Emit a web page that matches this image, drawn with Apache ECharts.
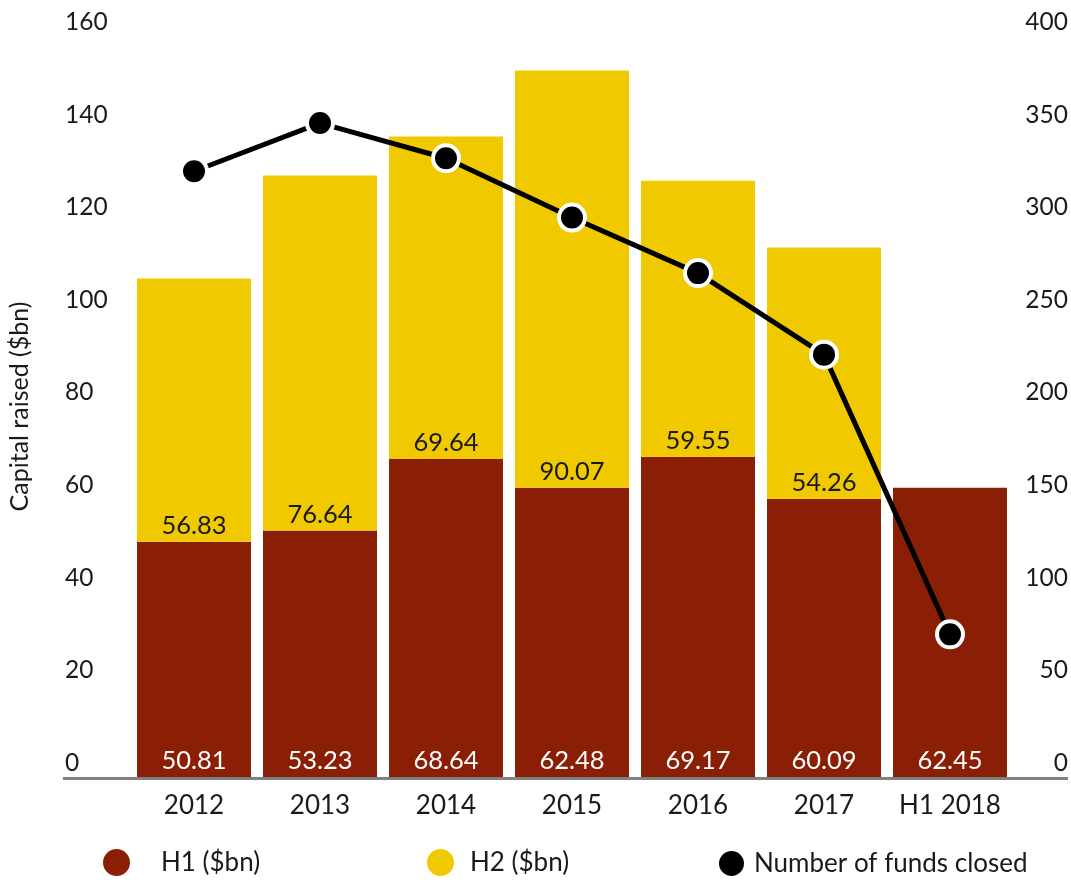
<!DOCTYPE html>
<html>
<head>
<meta charset="utf-8">
<title>Capital raised and number of funds closed</title>
<script src="https://cdn.jsdelivr.net/npm/echarts@6/dist/echarts.min.js"></script>
<style>
  html, body { margin: 0; padding: 0; background: #ffffff; }
  #chart { width: 1071px; height: 883px; }
</style>
</head>
<body>
<div id="chart"></div>
<script>
// Periods on the category axis
const categories = ['2012', '2013', '2014', '2015', '2016', '2017', 'H1 2018'];
// Capital raised in the first half of each year ($bn)
const h1Values = [50.81, 53.23, 68.64, 62.48, 69.17, 60.09, 62.45];
// Capital raised in the second half of each year ($bn)
const h2Values = [56.83, 76.64, 69.64, 90.07, 59.55, 54.26, null];
// Number of funds closed
const fundsClosed = [327, 353, 334, 302, 272, 228, 77];

const FONT = 'Lato, "Noto Sans", sans-serif';
const RED = '#8b1f05';
const YELLOW = '#f1c900';
const TEXT = '#1a1a1a';

const chart = echarts.init(document.getElementById('chart'), null, { renderer: 'canvas' });

const legendText = (pad) => ({
  fontFamily: FONT, fontSize: 26, color: TEXT, padding: [0, 0, 0, pad]
});

const option = {
  backgroundColor: '#ffffff',
  animation: false,
  textStyle: { fontFamily: FONT },
  grid: { left: 131, right: 58, top: 36, bottom: 106, outerBoundsMode: 'none', containLabel: false },
  legend: [
    { data: ['H1 ($bn)'], left: 103, top: 849, padding: 0, icon: 'circle',
      itemWidth: 27, itemHeight: 27, textStyle: legendText(26) },
    { data: ['H2 ($bn)'], left: 427, top: 849, padding: 0, icon: 'circle',
      itemWidth: 27, itemHeight: 27, textStyle: legendText(11) },
    { data: ['Number of funds closed'], left: 717, top: 849, padding: 0, icon: 'circle',
      itemWidth: 27, itemHeight: 27, textStyle: legendText(4) }
  ],
  xAxis: {
    type: 'category',
    data: categories,
    axisLine: { show: false },
    axisTick: { show: false },
    axisLabel: {
      interval: 0,
      fontFamily: FONT, fontSize: 26, color: TEXT, margin: 14, lineHeight: 30
    }
  },
  yAxis: [
    {
      type: 'value', min: 0, max: 160, interval: 20,
      name: 'Capital raised ($bn)',
      nameLocation: 'middle', nameGap: 99, nameRotate: 90,
      nameTextStyle: { fontFamily: FONT, fontSize: 25, color: TEXT },
      axisLine: { show: false }, axisTick: { show: false },
      splitLine: { show: false },
      axisLabel: {
        fontFamily: FONT, fontSize: 24.5, color: TEXT, align: 'left',
        verticalAlign: 'bottom', lineHeight: 28, margin: 66
      }
    },
    {
      type: 'value', min: 0, max: 400, interval: 50, position: 'right',
      axisLine: { show: false }, axisTick: { show: false },
      splitLine: { show: false },
      axisLabel: {
        fontFamily: FONT, fontSize: 24.5, color: TEXT, align: 'right',
        verticalAlign: 'bottom', lineHeight: 28, margin: 55
      }
    }
  ],
  series: [
    {
      name: 'H1 ($bn)', type: 'bar', stack: 'capital', barWidth: 114,
      data: h1Values,
      itemStyle: { color: RED },
      label: {
        show: true, position: 'insideBottom', distance: 3,
        fontFamily: FONT, fontSize: 25.5, color: '#ffffff',
        formatter: (p) => p.value.toFixed(2)
      }
    },
    {
      name: 'H2 ($bn)', type: 'bar', stack: 'capital', barWidth: 114,
      data: h2Values,
      itemStyle: { color: YELLOW },
      label: {
        show: true, position: 'insideBottom', distance: 3,
        fontFamily: FONT, fontSize: 25.5, color: TEXT,
        formatter: (p) => p.value.toFixed(2)
      }
    },
    {
      name: 'Number of funds closed', type: 'line', yAxisIndex: 1,
      data: fundsClosed, z: 5,
      symbol: 'circle', symbolSize: 26,
      lineStyle: { color: '#000000', width: 5 },
      itemStyle: { color: '#000000', borderColor: '#ffffff', borderWidth: 4 }
    }
  ]
};

chart.setOption(option);

// Grey baseline running under the bars at zero, across the whole plot width
const baseY = chart.convertToPixel({ yAxisIndex: 0 }, 0);
chart.setOption({
  graphic: [{
    type: 'rect',
    shape: { x: 63, y: baseY, width: 1005, height: 3 },
    style: { fill: '#808080' },
    z: 10
  }]
});
</script>
</body>
</html>
